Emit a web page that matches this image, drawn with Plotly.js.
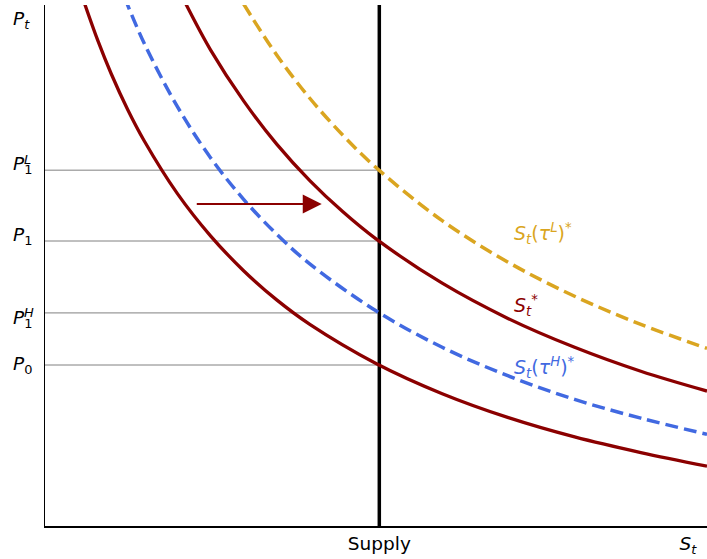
<!DOCTYPE html>
<html>
<head>
<meta charset="utf-8">
<script src="https://cdn.plot.ly/plotly-3.0.1.min.js"></script>
<style>html,body{margin:0;padding:0;background:#fff;}#chart{width:707px;height:559px;}</style>
</head>
<body>
<div id="chart"></div>
<script>
// ---- data (x: supply S_t, y: price P_t, arbitrary 0-10 units) ----
var supplyX = 5.05;
var P0 = 3.09, P1H = 4.09, P1 = 5.47, P1L = 6.83;

var lowX  = [0.6, 0.8, 1.0, 1.25, 1.5, 2, 2.5, 3, 3.5, 4, 5, 6, 7, 8, 9, 10];
var lowY  = [10.02, 9.31, 8.68, 7.99, 7.39, 6.38, 5.57, 4.90, 4.34, 3.87, 3.12, 2.54, 2.08, 1.71, 1.41, 1.15];

var starX = [2.1, 2.5, 3, 3.5, 4, 4.5, 5, 6, 7, 8, 9, 10];
var starY = [10.09, 9.14, 8.16, 7.33, 6.63, 6.03, 5.51, 4.66, 3.98, 3.43, 2.97, 2.59];

var highX = [1.2, 1.5, 2, 2.5, 3, 3.5, 4, 5, 6, 7, 8, 9, 10];
var highY = [10.15, 9.26, 8.05, 7.07, 6.27, 5.60, 5.03, 4.13, 3.43, 2.88, 2.43, 2.07, 1.76];

var lowTauX = [3.0, 3.5, 4, 4.5, 5, 6, 7, 8, 9, 10];
var lowTauY = [10.02, 9.04, 8.21, 7.50, 6.88, 5.86, 5.06, 4.41, 3.87, 3.41];

var priceLevels = [P0, P1H, P1, P1L];
var yLabelVals  = [9.71, P1L, P1, P1H, P0];
var yLabelText  = ['<i>P</i><sub><i>t</i></sub>', '<i>P</i><sub>1</sub>', '<i>P</i><sub>1</sub>', '<i>P</i><sub>1</sub>', '<i>P</i><sub>0</sub>'];
var yLabelShift = [0, 5, 5, -6, 0];
var supLabels   = [{y: P1L, t: '<i>L</i>', s: 11}, {y: P1H, t: '<i>H</i>', s: 0}];
var xTickVals   = [supplyX, 9.71];
var xTickText   = ['Supply', '<i>S</i><sub><i>t</i></sub>'];

var arrowFrom = 2.27, arrowTo = 4.18, arrowY = 6.18;

var curveLabels = [
  {x: 7.05, y: 5.62, t: '<i>S</i><sub><i>t</i></sub>(<i>τ</i><sup><i>L</i></sup>)<sup>*</sup>', c: '#DAA520'},
  {x: 7.05, y: 4.24, t: '<i>S</i><sub><i>t</i></sub><sup>*</sup>', c: '#8B0000'},
  {x: 7.05, y: 3.05, t: '<i>S</i><sub><i>t</i></sub>(<i>τ</i><sup><i>H</i></sup>)<sup>*</sup>', c: '#4169E1'}
];

var FONT = 'DejaVu Sans, sans-serif';
var traces = [];
priceLevels.forEach(function (p) {
  traces.push({x: [0, supplyX], y: [p, p], mode: 'lines', line: {color: '#808080', width: 1}, hoverinfo: 'skip'});
});
traces.push({x: [supplyX, supplyX], y: [0, 10], mode: 'lines', line: {color: '#000000', width: 3.5}});
traces.push({x: lowX, y: lowY, mode: 'lines', line: {color: '#8B0000', width: 3.3, shape: 'spline'}});
traces.push({x: starX, y: starY, mode: 'lines', line: {color: '#8B0000', width: 3.3, shape: 'spline'}});
traces.push({x: highX, y: highY, mode: 'lines', line: {color: '#4169E1', width: 3.5, shape: 'spline', dash: '13px,6px'}});
traces.push({x: lowTauX, y: lowTauY, mode: 'lines', line: {color: '#DAA520', width: 3.5, shape: 'spline', dash: '13px,6px'}});

var annotations = [];
yLabelVals.forEach(function (v, i) {
  annotations.push({xref: 'paper', yref: 'y', x: -0.051, y: v, xanchor: 'left', yanchor: 'middle',
    text: yLabelText[i], showarrow: false, yshift: yLabelShift[i], font: {family: FONT, size: 18.5, color: '#000'}});
});
supLabels.forEach(function (s) {
  annotations.push({xref: 'paper', yref: 'y', x: -0.035, y: s.y, xanchor: 'left', yanchor: 'middle',
    text: s.t, showarrow: false, yshift: s.s, font: {family: FONT, size: 13, color: '#000'}});
});
curveLabels.forEach(function (l) {
  annotations.push({xref: 'x', yref: 'y', x: l.x, y: l.y, xanchor: 'left', yanchor: 'middle',
    text: l.t, showarrow: false, font: {family: FONT, size: 19, color: l.c}});
});
annotations.push({xref: 'x', yref: 'y', axref: 'x', ayref: 'y', x: arrowTo, y: arrowY, ax: arrowFrom, ay: arrowY,
  showarrow: true, arrowhead: 2, arrowsize: 1.9, arrowwidth: 2, arrowcolor: '#8B0000', standoff: 0, text: ''});

var layout = {
  width: 707, height: 559,
  margin: {l: 45, r: 0, t: 5, b: 33, pad: 0},
  paper_bgcolor: '#ffffff', plot_bgcolor: '#ffffff',
  showlegend: false,
  font: {family: FONT, size: 18.5, color: '#000'},
  xaxis: {range: [0, 10], showgrid: false, zeroline: false, showline: true, linecolor: '#000', linewidth: 1.5,
    ticks: '', tickmode: 'array', tickvals: xTickVals, ticktext: xTickText, tickfont: {family: FONT, size: 18.5}},
  yaxis: {range: [0, 10], showgrid: false, zeroline: false, showline: true, linecolor: '#000', linewidth: 1.5,
    ticks: '', showticklabels: false},
  annotations: annotations
};
Plotly.newPlot('chart', traces, layout, {displayModeBar: false, staticPlot: true});
</script>
</body>
</html>
